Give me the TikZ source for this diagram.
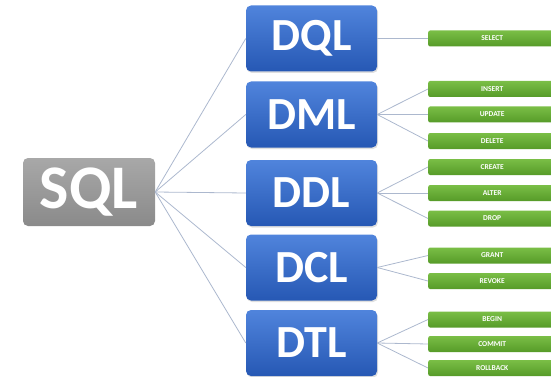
\documentclass[tikz,border=0pt]{standalone}
\usepackage{fontspec}
\setmainfont{Carlito}
\usetikzlibrary{shadows}
\definecolor{lineblue}{RGB}{172,184,206}
\definecolor{bluetop}{RGB}{80,132,220}
\definecolor{bluebot}{RGB}{38,88,180}
\definecolor{greentop}{RGB}{122,190,70}
\definecolor{greenbot}{RGB}{86,155,40}
\definecolor{greytop}{RGB}{168,168,168}
\definecolor{greybot}{RGB}{138,138,138}
\begin{document}
\begin{tikzpicture}[x=1pt, y=-1pt,
  rootbox/.style={rounded corners=5pt, top color=greytop, bottom color=greybot, text=white,
    minimum width=132pt, minimum height=68pt, inner sep=0pt,
    font=\fontsize{62}{62}\selectfont\bfseries},
  langbox/.style={rounded corners=5pt, top color=bluetop, bottom color=bluebot, text=white,
    minimum width=131pt, minimum height=66pt, inner sep=0pt,
    drop shadow={shadow xshift=1pt, shadow yshift=-1.5pt, opacity=0.25},
    font=\fontsize{46}{46}\selectfont\bfseries},
  cmdbox/.style={rounded corners=2pt, top color=greentop, bottom color=greenbot, text=white,
    minimum width=128pt, minimum height=16pt, inner sep=0pt, anchor=west,
    font=\fontsize{7.5}{7.5}\selectfont\bfseries},
  link/.style={draw=lineblue, line width=0.8pt}]
\useasboundingbox (0,0) rectangle (551,377);
\node[rootbox] (sql) at (89,192) {SQL};
\node[langbox] (dql) at (311.5,38.5) {DQL};
\node[langbox] (dml) at (311.5,114.5) {DML};
\node[langbox] (ddl) at (311.5,193) {DDL};
\node[langbox] (dcl) at (311.5,267.5) {DCL};
\node[langbox] (dtl) at (311.5,343) {DTL};
\draw[link] (sql.east) -- (dql.west);
\draw[link] (sql.east) -- (dml.west);
\draw[link] (sql.east) -- (ddl.west);
\draw[link] (sql.east) -- (dcl.west);
\draw[link] (sql.east) -- (dtl.west);
% DQL
\node[cmdbox] (select) at (428,38.5) {SELECT};
\draw[link] (dql.east) -- (select.west);
% DML
\node[cmdbox] (insert) at (428,89) {INSERT};
\node[cmdbox] (update) at (428,114.5) {UPDATE};
\node[cmdbox] (delete) at (428,141) {DELETE};
\draw[link] (dml.east) -- (insert.west);
\draw[link] (dml.east) -- (update.west);
\draw[link] (dml.east) -- (delete.west);
% DDL
\node[cmdbox] (create) at (428,167) {CREATE};
\node[cmdbox] (alter) at (428,193) {ALTER};
\node[cmdbox] (drop) at (428,218.5) {DROP};
\draw[link] (ddl.east) -- (create.west);
\draw[link] (ddl.east) -- (alter.west);
\draw[link] (ddl.east) -- (drop.west);
% DCL
\node[cmdbox] (grant) at (428,255.5) {GRANT};
\node[cmdbox] (revoke) at (428,281) {REVOKE};
\draw[link] (dcl.east) -- (grant.west);
\draw[link] (dcl.east) -- (revoke.west);
% DTL
\node[cmdbox] (begin) at (428,319.5) {BEGIN};
\node[cmdbox] (commit) at (428,344) {COMMIT};
\node[cmdbox] (rollback) at (428,368) {ROLLBACK};
\draw[link] (dtl.east) -- (begin.west);
\draw[link] (dtl.east) -- (commit.west);
\draw[link] (dtl.east) -- (rollback.west);
\end{tikzpicture}
\end{document}
